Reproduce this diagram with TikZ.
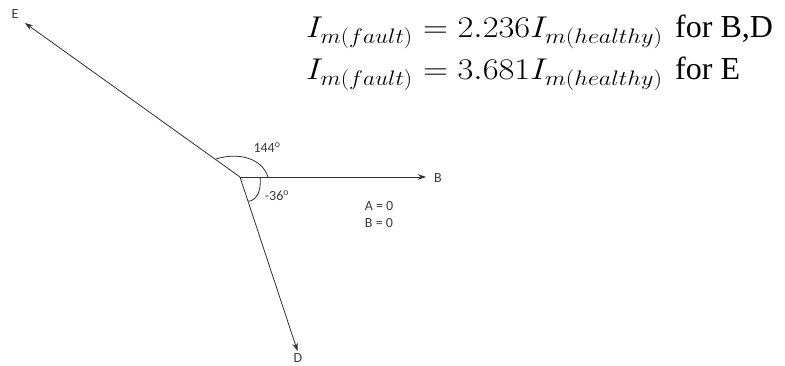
\RequirePackage{fix-cm}
\documentclass[tikz,border=0pt]{standalone}
\usepackage{graphicx}
\usepackage{fontspec}
\setsansfont{Carlito}
\newfontfamily\eqtext{Liberation Serif}
\usetikzlibrary{arrows.meta}
\definecolor{linegray}{HTML}{303030}
\definecolor{labelgray}{HTML}{3A3A3A}
\tikzset{
  vec/.style={draw=linegray, line width=0.8pt, -{Stealth[length=8pt,width=5.5pt]}},
  anglearc/.style={draw=linegray, line width=0.8pt},
  lbl/.style={font=\sffamily\fontsize{14}{16}\selectfont, inner sep=0pt, text=labelgray},
  eq/.style={font=\fontsize{30}{34}\selectfont, inner sep=0pt, anchor=base west},
  eqword/.style={font=\eqtext\fontsize{32}{36}\selectfont, inner sep=0pt, anchor=base west}
}
\newcommand{\lhsfault}{\scalebox{1.12}[1]{$I_{m(fault)}$}}
\begin{document}
\begin{tikzpicture}[x=1pt,y=-1pt]
\useasboundingbox (0,0) rectangle (785,366);
\coordinate (O) at (240,177);
\coordinate (Etip) at (25,23);
\coordinate (Btip) at (426,177);
\coordinate (Dtip) at (297.5,351);
\draw[vec] (O) -- (Etip);
\draw[vec] (O) -- (Btip);
\draw[vec] (O) -- (Dtip);
\node[lbl] (E) at (15,14.5) {E};
\node[lbl] (B) at (438,178) {B};
\node[lbl] (D) at (298,358) {D};
\coordinate (a1) at (268,177);
\coordinate (a2) at (216,159);
\draw[anglearc] (a1) .. controls (262,158) and (238,152) .. (a2);
\coordinate (b1) at (260,177);
\coordinate (b2) at (247.5,201);
\draw[anglearc] (b1) .. controls (262,194) and (254,202) .. (b2);
\node[lbl] (ang1) at (267,148) {144\textsuperscript{o}};
\node[lbl] (ang2) at (277,196) {-36\textsuperscript{o}};
\node[lbl] (A0) at (379,206) {A = 0};
\node[lbl] (B0) at (379,223.5) {B = 0};
\node[eq] (eq1l) at (306,38) {\lhsfault};
\node[eq] (eq1r) at (423,38) {\scalebox{1.15}[1]{$=2.236I_{m(healthy)}$}};
\node[eqword] (eq1t) at (675,38) {for B,D};
\node[eq] (eq2l) at (306,80) {\lhsfault};
\node[eq] (eq2r) at (423,80) {\scalebox{1.15}[1]{$=3.681I_{m(healthy)}$}};
\node[eqword] (eq2t) at (675,80) {for E};
\end{tikzpicture}
\end{document}
